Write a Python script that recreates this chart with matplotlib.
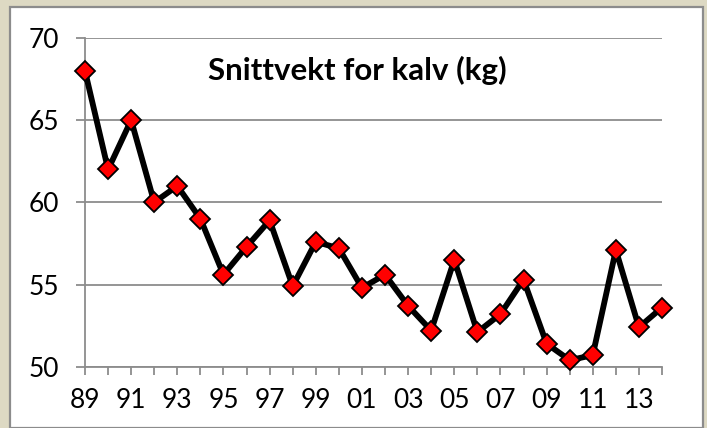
import matplotlib

matplotlib.use("Agg")
import matplotlib.pyplot as plt
from matplotlib.patches import Rectangle

plt.rcParams["font.family"] = ["Lato", "DejaVu Sans"]

# average calf weight per year, 1989-2014
years = list(range(1989, 2015))
weights = [68.0, 62.0, 65.0, 60.0, 61.0, 59.0, 55.6, 57.3, 58.9, 54.9,
           57.6, 57.2, 54.8, 55.6, 53.7, 52.2, 56.5, 52.1, 53.2, 55.3,
           51.4, 50.4, 50.7, 57.1, 52.4, 53.6]
label_years = list(range(1989, 2015, 2))
tick_labels = [f"{y % 100:02d}" for y in label_years]
y_ticks = [50, 55, 60, 65, 70]
title = "Snittvekt for kalv (kg)"

W, H = 707, 428
fig = plt.figure(figsize=(W / 100, H / 100), dpi=100, facecolor="#DDD9C3")

# white chart panel with gray frame
fig.patches.append(Rectangle((10 / W, 0), 693 / W, (H - 6.5) / H, transform=fig.transFigure,
                             facecolor="white", edgecolor="#8C8C8C", linewidth=1.6, zorder=-5))

ax = fig.add_axes([85 / W, (H - 366.7) / H, (662 - 85) / W, (366.7 - 38) / H])
ax.patch.set_alpha(0)
ax.plot(years, weights, color="black", lw=4.2, marker="D", ms=10.5,
        mfc="#FF0000", mec="black", mew=1.3, zorder=3, clip_on=False)

ax.set_xlim(1989, 2014)
ax.set_ylim(50, 70)
ax.set_yticks(y_ticks)
ax.set_xticks(years, minor=True)
ax.set_xticks(label_years)
ax.set_xticklabels(tick_labels)
ax.grid(axis="y", color="#8C8C8C", lw=1.3)
ax.set_axisbelow(True)

for side in ("top", "right"):
    ax.spines[side].set_visible(False)
for side in ("left", "bottom"):
    ax.spines[side].set_color("#8C8C8C")
    ax.spines[side].set_linewidth(1.3)

ax.tick_params(axis="y", length=6.5, width=1.3, color="#8C8C8C", pad=12, labelsize=19)
ax.tick_params(axis="x", which="both", length=6, width=1.3, color="#8C8C8C", pad=9, labelsize=19)

fig.text(357 / W, (H - 70) / H, title, ha="center", va="center",
         fontsize=22.5, fontweight="bold")

fig.savefig("out.png", dpi=100, facecolor=fig.get_facecolor())
